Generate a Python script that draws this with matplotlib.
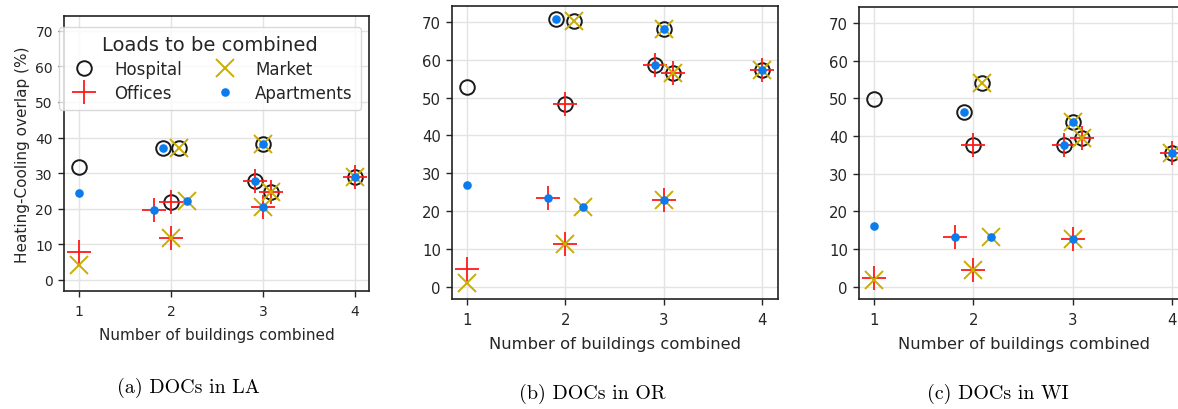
import matplotlib
matplotlib.use("Agg")
import matplotlib.pyplot as plt
from matplotlib.lines import Line2D

# building combinations, H=Hospital, O=Offices, M=Market, A=Apartments
combinations = ["H", "O", "M", "A",
                "HA", "HM", "HO", "OA", "MA", "OM",
                "HOA", "HMA", "OMA", "HOM",
                "HOMA"]

overlap_LA = [31.6, 7.8, 4.2, 24.3,
              37.0, 37.0, 21.8, 19.7, 22.0, 11.8,
              27.9, 38.1, 20.5, 24.8,
              29.0]
overlap_OR = [52.9, 4.8, 0.9, 27.0,
              70.8, 70.2, 48.4, 23.6, 21.1, 11.4,
              58.7, 68.2, 23.0, 56.4,
              57.3]
overlap_WI = [49.7, 2.4, 1.8, 16.2,
              46.5, 54.1, 37.7, 13.3, 13.3, 4.4,
              37.6, 43.6, 12.6, 39.5,
              35.6]

panels = [("(a) DOCs in LA", overlap_LA),
          ("(b) DOCs in OR", overlap_OR),
          ("(c) DOCs in WI", overlap_WI)]

buildings = ["H", "O", "M", "A"]
names = {"H": "Hospital", "O": "Offices", "M": "Market", "A": "Apartments"}

# layout / style only
jitter = {"HA": -0.09, "HM": 0.09, "OA": -0.18, "MA": 0.18,
          "HOA": -0.09, "HOM": 0.09}
styles = {
    "H": dict(marker="o", markersize=10.5, markerfacecolor="none",
              markeredgecolor="#1a1a1a", markeredgewidth=1.4),
    "O": dict(marker="+", markersize=17, markeredgecolor="#ff1a1a",
              markeredgewidth=1.3),
    "M": dict(marker="x", markersize=13, markeredgecolor="#c9ad00",
              markeredgewidth=1.4),
    "A": dict(marker="o", markersize=6.2, markerfacecolor="#0a7cee",
              markeredgecolor="none", markeredgewidth=0),
}

W, H = 1178, 410
fig = plt.figure(figsize=(W / 100, H / 100), dpi=100)

# axes boxes in pixels: left, right, top, bottom
boxes = [(64, 369, 17, 292), (452, 778, 7, 300), (859, 1188, 8, 300)]
xlims = [(0.84, 4.15), (0.85, 4.16), (0.85, 4.16)]
scales = [1.0, 1.07, 1.07]
captions_pos = [(188, 393), (592, 399), (998, 399)]

txt = "#262626"

for i, (caption, values) in enumerate(panels):
    l, r, t, b = boxes[i]
    ax = fig.add_axes([l / W, 1 - b / H, (r - l) / W, (b - t) / H])
    s = scales[i]

    for c, v in zip(combinations, values):
        x = len(c) + jitter.get(c, 0.0)
        for bld in buildings:
            if bld in c:
                ax.plot([x], [v], linestyle="none", zorder=3 + buildings.index(bld),
                        **styles[bld])

    ax.set_xlim(*xlims[i])
    ax.set_ylim(-3.2, 74.2)
    ax.set_xticks([1, 2, 3, 4])
    ax.set_yticks(range(0, 71, 10))
    ax.grid(True, color="#e3e3e3", linewidth=1.0)
    ax.set_axisbelow(True)
    for sp in ax.spines.values():
        sp.set_color("#222222")
        sp.set_linewidth(1.2)
    ax.tick_params(labelsize=10 * s, colors=txt, length=4.5, width=1.0,
                   labelcolor=txt)
    ax.tick_params(axis="x", pad=5)
    ax.set_xlabel("Number of buildings combined", fontsize=11 * s, color=txt,
                  labelpad=6)
    if i == 0:
        ax.set_ylabel("Heating-Cooling overlap (%)", fontsize=11, color=txt)
        handles = [Line2D([], [], linestyle="none", **styles[bld]) for bld in buildings]
        leg = ax.legend(handles, [names[bld] for bld in buildings], ncol=2,
                        title="Loads to be combined", fontsize=12,
                        title_fontsize=14, loc="upper left",
                        bbox_to_anchor=(-0.016, 0.96), borderaxespad=0,
                        framealpha=0.8, edgecolor="#d0d0d0",
                        handletextpad=0.8, columnspacing=1.6,
                        labelspacing=0.35, borderpad=0.5)
        for tx in leg.get_texts():
            tx.set_color(txt)
        leg.get_title().set_color(txt)
        leg.set_zorder(10)

    cx, cy = captions_pos[i]
    fig.text(cx / W, 1 - cy / H, caption, ha="center", va="baseline",
             fontsize=14.4, family="cmr10", color="black")

fig.savefig("out.png", dpi=100)
